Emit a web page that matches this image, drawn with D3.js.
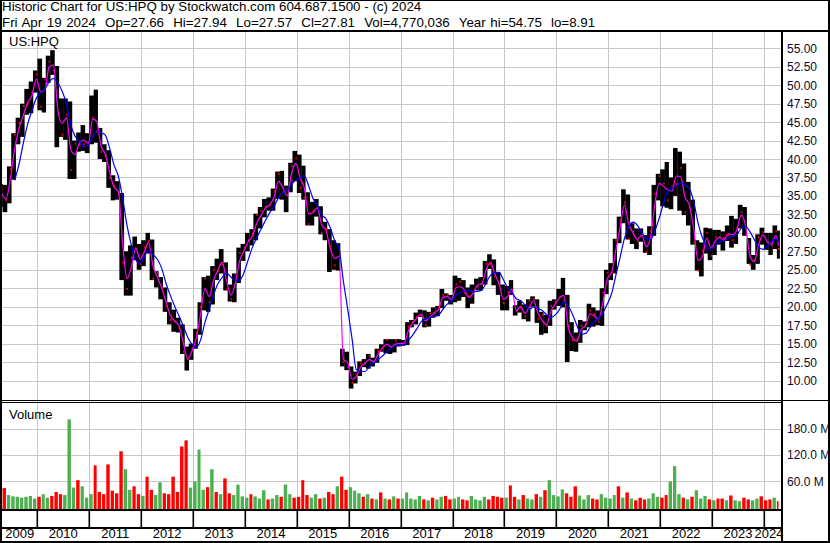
<!DOCTYPE html>
<html>
<head>
<meta charset="utf-8">
<script src="https://cdn.jsdelivr.net/npm/d3@7/dist/d3.min.js"></script>
<style>
  html, body { margin: 0; padding: 0; background: #fff; }
  svg { display: block; font-family: Arial, "Liberation Sans", sans-serif; }
</style>
</head>
<body>
<div id="chart"></div>
<script>
// Monthly bars, first month is April 2009, last is April 2024 (up to Apr 19)
var firstMonth = [2009, 3];
var lastDay = [2024, 3, 20];

var high = [
  36.6, 36.5, 39.0, 43.5, 45.6, 47.5, 49.5, 50.5, 52.0,
  53.6, 51.0, 54.0, 54.75, 52.6, 48.2, 48.2, 47.8, 42.5, 43.6, 44.6, 43.5,
  48.6, 49.4, 44.2, 42.0, 41.2, 37.8, 37.0, 35.4, 27.5, 28.3, 29.5, 28.5,
  29.0, 30.0, 29.1, 24.8, 24.0, 22.6, 20.6, 19.6, 18.5, 17.6, 14.6, 15.0,
  17.0, 20.6, 24.0, 24.2, 25.5, 26.5, 27.8, 26.0, 23.0, 24.5, 28.0, 28.5,
  30.0, 30.5, 32.6, 33.5, 34.6, 34.8, 36.0, 38.3, 38.4, 36.4, 39.5, 41.1,
  40.6, 39.1, 35.5, 34.2, 34.6, 33.6, 31.5, 30.5, 29.0, 28.6, 14.3, 13.9,
  11.9, 11.2, 12.6, 12.9, 13.6, 13.1, 14.3, 14.9, 15.6, 15.6, 15.6, 15.6,
  15.5, 17.9, 18.2, 19.2, 19.6, 19.5, 19.3, 19.9, 20.1, 22.4, 21.8, 21.6,
  24.2, 23.9, 23.6, 22.6, 23.0, 23.8, 24.0, 26.2, 27.1, 26.4, 24.7, 23.0,
  22.8, 23.6, 20.2, 20.8, 20.3, 21.0, 21.4, 21.0, 19.3, 18.9, 20.8, 21.0,
  22.4, 23.9, 21.6, 17.9, 16.5, 18.2, 18.0, 20.4, 19.9, 19.5, 22.5, 25.0,
  25.9, 29.2, 32.2, 35.9, 35.2, 31.3, 30.6, 30.6, 29.7, 30.9, 36.5, 38.0,
  38.6, 39.6, 37.5, 41.5, 41.0, 39.4, 36.9, 34.5, 29.0, 28.7, 30.7, 30.6,
  30.4, 30.4, 30.2, 31.0, 32.3, 31.9, 33.8, 33.5, 29.3, 27.0, 29.8, 30.7,
  30.0, 30.0, 31.0, 30.3
];

var low = [
  33.5, 32.8, 34.0, 37.2, 42.0, 43.0, 46.0, 46.2, 49.0,
  46.6, 46.3, 50.3, 51.4, 41.6, 43.0, 42.6, 37.3, 37.3, 41.0, 41.1, 40.8,
  42.0, 42.2, 40.0, 39.6, 36.1, 34.4, 34.5, 23.6, 21.5, 21.5, 26.3, 25.0,
  25.5, 27.2, 23.6, 22.6, 21.0, 19.3, 17.6, 16.6, 16.5, 13.6, 11.35, 12.8,
  14.3, 16.2, 19.5, 19.3, 20.3, 23.6, 24.5, 22.2, 20.7, 20.6, 23.2, 26.2,
  27.5, 28.3, 29.0, 30.6, 32.1, 33.0, 33.0, 34.6, 34.5, 32.8, 35.5, 37.0,
  35.4, 34.5, 31.0, 31.0, 32.2, 29.8, 29.0, 24.7, 25.0, 24.9, 11.9, 11.4,
  8.91, 9.6, 10.6, 11.8, 11.6, 11.9, 12.4, 13.9, 13.7, 13.6, 13.8, 14.6,
  14.7, 14.8, 17.2, 17.6, 18.6, 17.2, 17.3, 18.5, 18.7, 19.8, 20.8, 20.3,
  20.6, 20.8, 21.3, 19.8, 20.4, 22.2, 22.2, 23.0, 25.1, 22.9, 21.6, 19.5,
  19.5, 21.6, 18.8, 19.2, 18.3, 18.0, 20.0, 17.8, 16.2, 16.4, 17.4, 19.6,
  20.1, 19.9, 12.5, 14.0, 13.9, 15.1, 16.8, 17.2, 17.3, 17.5, 17.4, 21.7,
  23.6, 24.5, 28.6, 31.3, 29.1, 28.5, 27.8, 28.8, 27.3, 27.0, 29.6, 34.4,
  33.6, 33.4, 33.2, 35.0, 33.0, 32.4, 31.0, 28.4, 24.9, 24.1, 27.2, 26.3,
  27.0, 28.4, 27.6, 28.9, 28.0, 28.5, 30.6, 29.6, 25.8, 25.0, 25.8, 28.4,
  27.7, 27.0, 27.8, 26.5
];

var close = [
  36.0, 34.4, 38.6, 43.3, 44.9, 47.2, 47.5, 49.1, 51.5,
  47.1, 50.8, 53.2, 52.0, 46.0, 43.3, 46.0, 38.5, 42.1, 42.0, 42.0, 42.1,
  45.6, 43.7, 41.0, 40.4, 37.4, 36.4, 35.2, 26.0, 22.4, 26.6, 27.9, 25.8,
  28.0, 28.9, 23.8, 24.6, 22.6, 20.1, 18.2, 18.0, 17.1, 13.9, 12.9, 14.3,
  16.5, 20.0, 23.8, 20.6, 25.0, 24.8, 25.7, 22.3, 21.0, 24.4, 27.3, 28.0,
  29.0, 29.9, 32.4, 33.0, 33.5, 33.7, 35.6, 38.0, 35.5, 35.9, 39.1, 40.1,
  36.1, 34.8, 31.2, 33.0, 33.4, 30.0, 30.5, 28.2, 25.6, 26.9, 12.5, 11.8,
  9.7, 10.8, 12.3, 12.3, 13.3, 12.5, 14.0, 14.4, 15.5, 14.5, 15.4, 14.8,
  15.0, 17.3, 17.9, 18.6, 18.8, 17.5, 19.1, 19.1, 20.0, 21.6, 21.5, 21.0,
  23.0, 23.4, 21.9, 21.4, 22.0, 22.7, 23.1, 25.8, 25.8, 24.1, 23.0, 20.5,
  22.0, 22.0, 19.4, 20.0, 18.7, 20.8, 21.0, 18.4, 18.9, 17.4, 20.1, 20.6,
  21.3, 20.8, 17.4, 15.5, 15.6, 17.4, 17.6, 19.5, 19.0, 18.0, 21.9, 24.6,
  24.6, 29.0, 31.7, 34.1, 29.2, 30.2, 28.9, 29.7, 27.4, 30.2, 35.3, 37.7,
  36.7, 34.4, 36.3, 36.6, 38.8, 32.8, 33.4, 28.7, 24.9, 27.6, 30.0, 26.9,
  29.4, 29.4, 29.3, 29.7, 29.0, 30.7, 32.8, 29.7, 25.7, 26.3, 29.4, 30.1,
  28.7, 28.3, 30.2, 27.81
];

// volume in millions, and whether the bar is drawn green (1) or red (0)
var volume = [
  30, 44, 28, 25, 24, 22, 24, 26, 20,
  24, 30, 22, 26, 35, 30, 28, 201, 45, 62, 48, 22,
  30, 96, 35, 30, 98, 38, 32, 128, 87, 40, 48, 30,
  26, 70, 40, 28, 57, 32, 30, 70, 35, 139, 153, 45,
  59, 132, 40, 46, 87, 35, 30, 66, 32, 28, 52, 25,
  22, 30, 25, 20, 39, 18, 20, 28, 24, 52, 30, 22,
  24, 62, 28, 22, 30, 20, 22, 35, 30, 48, 70, 40,
  46, 38, 32, 24, 30, 20, 18, 34, 20, 18, 25, 20,
  20, 34, 20, 18, 26, 18, 16, 22, 18, 24, 26, 18,
  20, 24, 18, 16, 26, 18, 16, 24, 18, 26, 24, 22,
  22, 50, 24, 18, 28, 20, 18, 30, 24, 39, 62, 28,
  25, 41, 32, 24, 48, 27, 18, 28, 20, 18, 30, 22,
  20, 28, 48, 22, 34, 20, 16, 22, 18, 20, 32, 24,
  22, 28, 59, 94, 30, 22, 18, 24, 39, 20, 26, 18,
  16, 20, 20, 16, 27, 16, 14, 22, 18, 16, 20, 25,
  16, 18, 22, 14
];

var volUp = [
  1,0,1,1,1,1,1,1,1,
  0,1,1,0,0,0,1,1,1,0,1,1,
  1,0,0,0,0,0,0,0,1,1,0,0,
  1,0,0,1,1,0,0,0,0,0,0,1,
  1,1,1,0,1,0,1,0,0,1,1,1,
  1,0,1,1,1,0,1,1,0,1,1,0,
  0,0,0,1,1,0,1,0,0,1,0,0,
  1,1,1,0,1,0,1,0,1,0,1,0,
  1,1,1,1,1,0,1,0,1,1,0,0,
  1,1,0,0,1,1,1,1,0,0,0,0,
  1,0,0,1,0,1,1,0,1,0,1,1,
  1,1,0,0,0,1,1,1,0,0,1,1,
  1,1,0,1,0,1,0,0,0,1,1,1,
  0,0,1,1,1,0,1,0,1,1,1,0,
  1,0,0,1,0,1,1,0,0,1,1,0,
  0,0,1,0
];

var priceTicks = [10, 12.5, 15, 17.5, 20, 22.5, 25, 27.5, 30, 32.5, 35, 37.5, 40, 42.5, 45, 47.5, 50, 52.5, 55];
var volTicks = [60, 120, 180];
var years = [2009, 2010, 2011, 2012, 2013, 2014, 2015, 2016, 2017, 2018, 2019, 2020, 2021, 2022, 2023, 2024];

var titleLine1 = "Historic Chart for US:HPQ by Stockwatch.com 604.687.1500 - (c) 2024";
var titleLine2 = "Fri Apr 19 2024  Op=27.66  Hi=27.94  Lo=27.57  Cl=27.81  Vol=4,770,036  Year hi=54.75  lo=8.91";

function init() {
  var W = 830, H = 543;
  var left = 2, right = 781;
  var pTop = 32, pBot = 400;
  var vTop = 404, vBot = 509;

  var svg = d3.select('#chart').append('svg')
    .attr('width', W).attr('height', H);

  var defs = svg.append('defs');
  defs.append('clipPath').attr('id', 'clipP').append('rect')
    .attr('x', left).attr('y', pTop).attr('width', right - left).attr('height', pBot - pTop);
  defs.append('clipPath').attr('id', 'clipV').append('rect')
    .attr('x', left).attr('y', vTop).attr('width', right - left).attr('height', vBot - vTop);

  var endOfData = new Date(Date.UTC(lastDay[0], lastDay[1], lastDay[2]));

  var data = high.map(function(h, i) {
    var d0 = new Date(Date.UTC(firstMonth[0], firstMonth[1] + i, 1));
    var d1 = new Date(Date.UTC(firstMonth[0], firstMonth[1] + i + 1, 1));
    if (d1 > endOfData) d1 = endOfData;
    return {
      start: d0, end: d1, high: h, low: low[i], close: close[i],
      typ: (h + low[i] + close[i]) / 3,
      vol: volume[i], up: volUp[i]
    };
  });

  // short average = the month's typical price, long average = 4 months of it
  data.forEach(function(d, i) {
    if (i >= 3) d.ma = d3.mean(data.slice(i - 3, i + 1), function(e) { return e.typ; });
  });

  var x = d3.scaleUtc()
    .domain([new Date(Date.UTC(2009, 3, 27)), new Date(Date.UTC(2024, 3, 30))])
    .range([left, right]);

  var y = d3.scaleLinear().domain([10, 55]).range([380.5, 48.3]);
  var yv = d3.scaleLinear().domain([0, 240]).range([507.3, 402.3]);

  var yearDates = years.slice(1).map(function(yr) { return new Date(Date.UTC(yr, 0, 1)); });
  var gridX = function(d) { return Math.round(x(d)) + 0.5; };

  // grid
  var grid = svg.append('g').attr('stroke', '#c8c8c8').attr('stroke-width', 1);
  grid.selectAll('.gx').data(yearDates).enter().append('line')
    .attr('x1', gridX).attr('x2', gridX).attr('y1', pTop).attr('y2', vBot);
  grid.selectAll('.gy').data(priceTicks).enter().append('line')
    .attr('x1', left).attr('x2', right)
    .attr('y1', function(d) { return Math.round(y(d)) + 0.5; })
    .attr('y2', function(d) { return Math.round(y(d)) + 0.5; });
  grid.selectAll('.gv').data(volTicks).enter().append('line')
    .attr('x1', left).attr('x2', right)
    .attr('y1', function(d) { return Math.round(yv(d)) + 0.5; })
    .attr('y2', function(d) { return Math.round(yv(d)) + 0.5; });

  // price bars
  var price = svg.append('g').attr('clip-path', 'url(#clipP)');
  price.selectAll('rect.bar').data(data).enter().append('rect')
    .attr('x', function(d) { return x(d.start); })
    .attr('width', function(d) { return x(d.end) - x(d.start) + 0.3; })
    .attr('y', function(d) { return y(d.high); })
    .attr('height', function(d) { return y(d.low) - y(d.high); })
    .attr('fill', '#000');

  price.selectAll('rect.tick').data(data).enter().append('rect')
    .attr('x', function(d) { return x(d.end) - 1.5; })
    .attr('width', 1.5)
    .attr('y', function(d) { return y(d.close) - 1; })
    .attr('height', 2)
    .attr('fill', '#ff0000');

  var shortLine = d3.line()
    .curve(d3.curveMonotoneX)
    .x(function(d) { return x(d.end) - 1; })
    .y(function(d) { return y(d.typ); });
  price.append('path').datum(data)
    .attr('d', shortLine)
    .attr('fill', 'none').attr('stroke', '#ff00ff').attr('stroke-width', 1.2);

  var longLine = d3.line()
    .curve(d3.curveMonotoneX)
    .defined(function(d) { return d.ma !== undefined; })
    .x(function(d) { return x(d.end) - 1; })
    .y(function(d) { return y(d.ma); });
  price.append('path').datum(data)
    .attr('d', longLine)
    .attr('fill', 'none').attr('stroke', '#0000ff').attr('stroke-width', 1.2);

  // volume bars
  var vol = svg.append('g').attr('clip-path', 'url(#clipV)');
  vol.selectAll('rect').data(data).enter().append('rect')
    .attr('x', function(d) { return x(d.start); })
    .attr('width', function(d) { return Math.max(1, x(d.end) - x(d.start) - 1); })
    .attr('y', function(d) { return yv(d.vol); })
    .attr('height', function(d) { return vBot - yv(d.vol); })
    .attr('fill', function(d) { return d.up ? '#4caf50' : '#ff0000'; });

  // frame lines
  var frame = svg.append('g').attr('fill', '#000');
  frame.append('rect').attr('x', 0).attr('y', 0).attr('width', W).attr('height', 1);
  frame.append('rect').attr('x', 0).attr('y', 0).attr('width', 2).attr('height', H);
  frame.append('rect').attr('x', W - 2).attr('y', 0).attr('width', 2).attr('height', H);
  frame.append('rect').attr('x', 0).attr('y', H - 2).attr('width', W).attr('height', 2);
  frame.append('rect').attr('x', 0).attr('y', 30).attr('width', W).attr('height', 2);
  frame.append('rect').attr('x', right).attr('y', 30).attr('width', 2).attr('height', H - 30);
  frame.append('rect').attr('x', 0).attr('y', 400).attr('width', W).attr('height', 1);
  frame.append('rect').attr('x', 0).attr('y', 402).attr('width', right).attr('height', 1);
  frame.append('rect').attr('x', 0).attr('y', vBot).attr('width', right).attr('height', 2);
  frame.append('rect').attr('x', 0).attr('y', 527).attr('width', right).attr('height', 2);

  // year separators in the axis band
  frame.selectAll('rect.sep').data(yearDates).enter().append('rect')
    .attr('x', function(d) { return Math.round(x(d)) - 0.5; })
    .attr('y', vBot).attr('width', 1.6).attr('height', 527 - vBot);

  // year labels
  var bounds = [x.domain()[0]].concat(yearDates).concat([x.domain()[1]]);
  svg.append('g').selectAll('text').data(years).enter().append('text')
    .attr('x', function(d, i) {
      var mid = (x(bounds[i]) + x(bounds[i + 1])) / 2;
      return Math.min(mid, 769);
    })
    .attr('y', 538)
    .attr('text-anchor', 'middle')
    .attr('font-size', '13px')
    .attr('fill', '#000')
    .text(function(d) { return d; });

  // price axis labels
  svg.append('g').selectAll('text').data(priceTicks).enter().append('text')
    .attr('x', 787)
    .attr('y', function(d) { return y(d) + 4.5; })
    .attr('font-size', '12px')
    .attr('fill', '#0a0a28')
    .text(function(d) { return d3.format('.2f')(d); });

  // volume axis labels
  svg.append('g').selectAll('text').data(volTicks).enter().append('text')
    .attr('x', 787)
    .attr('y', function(d) { return yv(d) + 4.5; })
    .attr('font-size', '12px')
    .attr('fill', '#0a0a28')
    .text(function(d) { return d3.format('.1f')(d) + ' M'; });

  // titles
  svg.append('text').attr('x', 2).attr('y', 11).attr('font-size', '13.33px')
    .style('white-space', 'pre').text(titleLine1);
  svg.append('text').attr('x', 2).attr('y', 27).attr('font-size', '13.33px')
    .style('white-space', 'pre').style('word-spacing', '0.9px').text(titleLine2);
  svg.append('text').attr('x', 9).attr('y', 46).attr('font-size', '13px').text('US:HPQ');
  svg.append('text').attr('x', 9).attr('y', 419).attr('font-size', '13px').text('Volume');
}

window.onload = init;
</script>
</body>
</html>
